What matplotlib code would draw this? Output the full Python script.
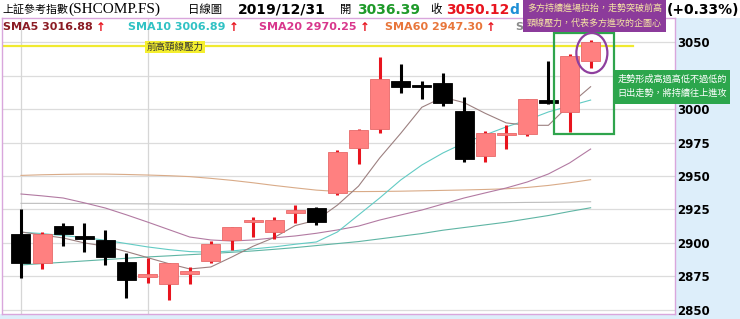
import numpy as np
import matplotlib
matplotlib.use("Agg")
import matplotlib.pyplot as plt
from matplotlib.patches import Rectangle, Ellipse

# ---- data ----
opens = [2906.4, 2885.2, 2912.6, 2905.4, 2902.2, 2885.9, 2874.5, 2869.2, 2876.8, 2886.4,
         2902.2, 2915.4, 2908.4, 2922.6, 2925.9, 2937.1, 2970.8, 2985.0, 3021.2, 3017.7,
         3019.5, 2999.0, 2965.3, 2980.5, 2981.3, 3006.4, 2998.2, 3036.39]
highs = [2925.1, 2908.0, 2915.1, 2914.7, 2909.7, 2892.2, 2888.9, 2885.2, 2882.2, 2901.6,
         2912.0, 2919.6, 2919.2, 2928.4, 2926.5, 2969.5, 2985.0, 3039.4, 3033.7, 3021.4,
         3027.4, 3009.0, 2984.0, 2988.2, 3008.0, 3036.2, 3041.4, 3051.8]
lows = [2873.5, 2880.2, 2897.7, 2893.4, 2883.5, 2858.5, 2870.2, 2857.3, 2869.2, 2884.7,
        2894.7, 2904.7, 2902.7, 2915.1, 2913.4, 2935.9, 2958.8, 2982.5, 3012.0, 3007.5,
        3002.5, 2960.8, 2960.8, 2970.3, 2980.0, 3003.7, 2983.2, 3030.6]
closes = [2885.2, 2906.4, 2906.7, 2903.0, 2889.7, 2872.2, 2876.0, 2884.7, 2878.4, 2899.2,
          2911.7, 2916.1, 2917.0, 2924.6, 2915.9, 2967.8, 2984.5, 3022.5, 3016.9, 3016.5,
          3004.9, 2962.8, 2982.5, 2982.0, 3007.5, 3004.9, 3040.1, 3050.12]

sma5 = [2908.2, 2905.9, 2903.7, 2900.0, 2897.5, 2893.5, 2889.0, 2884.5, 2880.5, 2882.0,
        2889.5, 2897.5, 2904.0, 2913.0, 2917.0, 2928.3, 2942.5, 2963.5, 2982.0, 3001.5,
        3009.0, 3005.0, 2997.0, 2989.8, 2988.0, 2988.0, 3003.4, 3016.88]
sma10 = [2908.0, 2907.0, 2905.5, 2904.0, 2902.0, 2899.5, 2897.0, 2895.0, 2893.5, 2893.0,
         2894.0, 2895.5, 2897.0, 2899.0, 2900.7, 2908.2, 2920.9, 2933.6, 2947.1, 2958.3,
         2967.3, 2974.8, 2980.8, 2986.8, 2992.0, 2998.0, 3002.5, 3006.89]
sma20 = [2936.6, 2935.2, 2933.6, 2930.0, 2926.1, 2921.0, 2915.6, 2910.0, 2904.4, 2902.2,
         2901.4, 2902.2, 2903.8, 2905.2, 2907.2, 2909.7, 2912.6, 2917.1, 2920.9, 2924.6,
         2929.1, 2933.6, 2937.4, 2941.1, 2945.6, 2951.6, 2959.8, 2970.25]
sma60 = [2950.5, 2951.0, 2951.3, 2951.5, 2951.5, 2951.2, 2950.8, 2950.3, 2949.6, 2948.3,
         2946.8, 2945.0, 2943.0, 2941.2, 2939.5, 2938.5, 2938.4, 2938.5, 2938.7, 2939.0,
         2939.3, 2939.6, 2940.0, 2940.5, 2941.5, 2943.0, 2945.0, 2947.30]
sma120 = [2929.6, 2929.6, 2929.5, 2929.5, 2929.4, 2929.3, 2929.2, 2929.1, 2929.0, 2929.0,
          2929.0, 2929.0, 2929.1, 2929.1, 2929.2, 2929.3, 2929.4, 2929.5, 2929.6, 2929.7,
          2929.8, 2929.9, 2930.0, 2930.1, 2930.3, 2930.4, 2930.6, 2930.8]
sma240 = [2883.5, 2884.5, 2885.5, 2886.5, 2887.5, 2888.5, 2889.5, 2890.3, 2891.2, 2892.0,
          2893.0, 2894.0, 2895.2, 2896.5, 2898.0, 2899.5, 2901.0, 2903.0, 2905.0, 2907.0,
          2909.5, 2911.5, 2913.5, 2915.5, 2918.0, 2920.5, 2923.5, 2926.3]

yticks = [2850, 2875, 2900, 2925, 2950, 2975, 3000, 3025, 3050]
ytick_labels = ["2850", "2875", "2900", "2925", "2950", "2975", "3000", "", "3050"]  # 3025 hidden by note box
month_marks = [0, 6]          # vertical separators
neckline = 3047.0             # previous high neckline

# legend row: text, colour, left pixel, arrow shown?
sma_labels = [("SMA5 3016.88", "#8b1c24", 3, True),
              ("SMA10 3006.89", "#30c2c4", 128, True),
              ("SMA20 2970.25", "#d8378c", 259, True),
              ("SMA60 2947.30", "#e8763a", 385, True),
              ("S", "#8a8a8a", 515, False)]   # rest covered by the purple note

W, H = 740, 319
fig = plt.figure(figsize=(W / 100, H / 100), dpi=100)
fig.patch.set_facecolor("white")


def fx(px):
    return px / W


def fy(py):
    return 1 - py / H


blue_bg = "#ddeefa"
fig.add_artist(Rectangle((fx(675), 0), 1 - fx(675), fy(18), transform=fig.transFigure,
                         facecolor=blue_bg, edgecolor="none", zorder=-5))
fig.add_artist(Rectangle((0, 0), 1, fy(314), transform=fig.transFigure,
                         facecolor=blue_bg, edgecolor="none", zorder=-5))

ax = fig.add_axes([fx(2), fy(314), fx(675) - fx(2), fy(18) - fy(314)])
ax.set_facecolor("white")
for s in ax.spines.values():
    s.set_color("#d9a6dc")
    s.set_linewidth(1.0)

n = len(closes)
x = np.arange(n)
ax.set_xlim(-0.9, 31.0)
ax.set_ylim(2846.8, 3068.3)

# grid
for t in yticks:
    ax.axhline(t, color="#dcdcdc", lw=0.9, zorder=0)
for m in month_marks:
    ax.axvline(m, color="#d6d6d6", lw=0.9, zorder=0)

# moving averages
ax.plot(x, sma240, color="#5fb5a4", lw=0.8, zorder=1)
ax.plot(x, sma120, color="#bdbdbd", lw=0.8, zorder=1)
ax.plot(x, sma60, color="#d9ab88", lw=0.8, zorder=1)
ax.plot(x, sma20, color="#b27aa2", lw=0.8, zorder=1)
ax.plot(x, sma10, color="#62cbc4", lw=0.8, zorder=1)
ax.plot(x, sma5, color="#9c8080", lw=0.8, zorder=1)

# candles
o = np.array(opens); c = np.array(closes); hi = np.array(highs); lo = np.array(lows)
up = c >= o
body_lo = np.minimum(o, c)
body_h = np.maximum(np.abs(c - o), 2.0)
ax.vlines(x[up], lo[up], hi[up], color="#e8141e", lw=2.2, zorder=2)
ax.vlines(x[~up], lo[~up], hi[~up], color="black", lw=2.2, zorder=2)
ax.bar(x[up], body_h[up], bottom=body_lo[up], width=0.9, color="#ff8080",
       edgecolor="#e86a6a", linewidth=0.6, zorder=3)
ax.bar(x[~up], body_h[~up], bottom=body_lo[~up], width=0.9, color="black",
       edgecolor="black", linewidth=0.6, zorder=3)

# neckline and its label
ax.plot([-0.9, 29.0], [neckline, neckline], color="#f0ea30", lw=1.6, zorder=1.5)
ax.text(7.3, neckline - 0.6, "前高頸線壓力", fontsize=6.8, family="Noto Sans CJK TC",
        color="#333333", ha="center", va="center", zorder=5,
        bbox=dict(boxstyle="square,pad=0.15", facecolor="#f5ef2e", edgecolor="none"))

# green box around last two candles, purple ellipse round the last one
ax.add_patch(Rectangle((n - 2.75, lows[-2] - 1.7), 2.85, 3056.9 - (lows[-2] - 1.7),
                       fill=False, edgecolor="#2fa44c", lw=1.6, zorder=6, clip_on=False))
ax.add_patch(Ellipse((n - 1 + 0.06, (highs[-1] + lows[-1]) / 2 + 0.9), 1.47, 30,
                     fill=False, edgecolor="#8e3f9e", lw=1.6, zorder=6))

# y tick labels on the right
ax.yaxis.tick_right()
ax.set_yticks(yticks)
ax.set_yticklabels(ytick_labels, fontsize=8.5, fontweight="bold", family="DejaVu Sans")
ax.tick_params(axis="y", length=0, pad=1.5)
ax.set_xticks([])

# header
yh = fy(9.5)
fig.text(fx(2), yh, "上証參考指數", fontsize=7.9, family="Noto Sans CJK TC", va="center")
fig.text(fx(68), yh, "(SHCOMP.FS)", fontsize=11, family="Liberation Serif", va="center")
fig.text(fx(188), yh, "日線圖", fontsize=8.2, family="Noto Sans CJK TC", va="center")
fig.text(fx(238), yh, "2019/12/31", fontsize=10, fontweight="bold", va="center")
fig.text(fx(340), yh, "開", fontsize=8.2, family="Noto Sans CJK TC", va="center")
fig.text(fx(357), yh, "3036.39", fontsize=10, fontweight="bold", color="#1f9a2a", va="center")
fig.text(fx(430), yh, "收", fontsize=8.2, family="Noto Sans CJK TC", va="center")
fig.text(fx(446), yh, "3050.12", fontsize=10, fontweight="bold", color="#e8141e", va="center")
fig.text(fx(509), yh, "d", fontsize=10, fontweight="bold", color="#1e8fd6", va="center")
fig.text(fx(667), yh, "(+0.33%)", fontsize=10, fontweight="bold", color="black", va="center")

# SMA legend row, arrow placed right after each label
ys = fy(27.5)
renderer = fig.canvas.get_renderer()
for label, col, x0, arrow in sma_labels:
    t = fig.text(fx(x0), ys, label, fontsize=8, fontweight="bold", color=col, va="center")
    if arrow:
        right_px = t.get_window_extent(renderer).x1
        fig.text(fx(right_px + 3), ys, "↑", fontsize=8.5, fontweight="bold",
                 color="#e8141e", va="center")

# purple comment box at top
fig.add_artist(Rectangle((fx(523), fy(32)), fx(666) - fx(523), fy(0) - fy(32),
                         transform=fig.transFigure, facecolor="#8c3b9b",
                         edgecolor="none", zorder=10))
fig.text(fx(594.5), fy(16), "多方持續進場拉抬，走勢突破前高\n頸線壓力，代表多方進攻的企圖心",
         fontsize=6.5, family="Noto Sans CJK TC", color="#f6e6a4", ha="center", va="center",
         linespacing=1.75, zorder=11)

# green comment box at right
fig.add_artist(Rectangle((fx(615), fy(103.5)), fx(730) - fx(615), fy(70) - fy(103.5),
                         transform=fig.transFigure, facecolor="#2ca64c",
                         edgecolor="none", zorder=10))
fig.text(fx(672.5), fy(86.5), "走勢形成高過高低不過低的\n日出走勢，將持續往上進攻",
         fontsize=6.6, family="Noto Sans CJK TC", color="white", ha="center", va="center",
         linespacing=1.7, zorder=11)

fig.savefig("out.png", dpi=100)
